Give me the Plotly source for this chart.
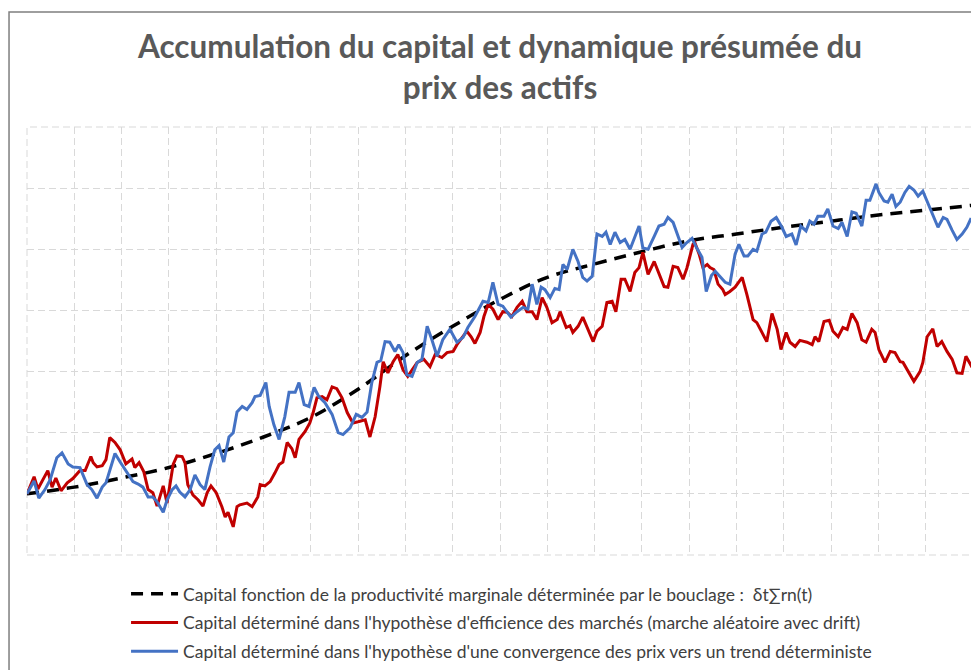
import plotly.graph_objects as go

# temps (pas de simulation) et niveau du capital
trend_t = [0, 10, 20, 30, 40, 50, 60, 70, 80, 90, 100,
           110, 120, 130, 140, 150, 160, 170, 180, 190, 200]
trend_k = [1.00, 1.11, 1.26, 1.43, 1.66, 1.93, 2.25, 2.71, 3.26, 3.74, 4.18,
           4.54, 4.76, 4.96, 5.14, 5.25, 5.36, 5.46, 5.56, 5.64, 5.72]

red_t = [0.0, 1.5, 2.3, 4.4, 5.3, 6.1, 7.2, 8.5, 9.7, 11.2, 12.3, 13.5, 14.0, 14.8, 15.9, 16.7,
         17.5, 18.6, 19.7, 20.9, 22.2, 22.8, 23.7, 24.7, 25.6, 26.6, 27.5, 28.8, 29.6, 30.9, 31.7,
         32.8, 33.4, 34.0, 35.1, 36.2, 37.2, 38.1, 38.9, 40.0, 41.2, 41.9, 42.5, 43.6, 44.4, 45.0,
         46.5, 47.6, 48.8, 49.3, 50.3, 51.4, 52.4, 53.3, 54.1, 55.0, 56.0, 56.7, 57.5, 58.8, 59.8,
         60.5, 61.3, 62.4, 63.4, 64.5, 65.5, 66.6, 67.7, 68.3, 68.9, 70.0, 71.5, 72.5, 73.6, 74.6,
         75.3, 76.3, 77.4, 78.4, 79.5, 80.5, 82.5, 83.9, 85.2, 86.3, 87.7, 88.8, 90.1, 90.9, 92.2,
         93.0, 93.9, 94.7, 95.8, 96.6, 97.5, 98.5, 99.6, 100.6, 101.5, 102.5, 103.6, 104.7, 105.7,
         106.8, 107.8, 108.9, 109.9, 111.0, 112.1, 112.7, 114.0, 114.8, 115.4, 116.5, 117.5, 118.6,
         119.7, 120.5, 121.6, 122.6, 123.7, 124.5, 125.6, 126.4, 127.5, 128.5, 129.4, 130.2, 131.3,
         132.6, 133.6, 134.7, 135.5, 136.6, 137.6, 138.7, 139.5, 140.8, 141.2, 142.1, 142.9, 143.8,
         144.4, 145.2, 146.1, 147.1, 147.6, 148.6, 149.7, 151.2, 152.2, 153.5, 154.3, 155.4, 156.4,
         157.5, 158.6, 159.4, 160.5, 161.3, 162.4, 163.4, 164.9, 166.0, 166.6, 167.4, 168.5, 169.6,
         170.4, 171.5, 172.5, 173.4, 174.4, 175.5, 176.5, 177.4, 178.6, 179.3, 180.1, 181.4, 182.5,
         183.5, 184.6, 185.2, 186.3, 187.5, 188.8, 189.4, 190.3, 191.5, 192.4, 193.4, 194.5, 195.6,
         196.6, 197.7, 198.5, 199.8]
red_k = [1.00, 1.28, 1.08, 1.38, 1.11, 1.26, 1.05, 1.18, 1.25, 1.38, 1.38, 1.61, 1.51, 1.44, 1.46, 1.56,
         1.92, 1.84, 1.72, 1.49, 1.57, 1.43, 1.51, 1.36, 1.07, 1.02, 0.80, 1.13, 0.85, 1.48, 1.62,
         1.61, 1.51, 1.15, 0.98, 0.90, 0.80, 1.02, 1.13, 1.02, 0.79, 0.62, 0.70, 0.46, 0.79, 0.82,
         0.85, 0.79, 0.95, 1.15, 1.13, 1.20, 1.34, 1.48, 1.52, 1.84, 1.74, 1.59, 1.89, 2.02, 2.16,
         2.33, 2.57, 2.59, 2.54, 2.75, 2.72, 2.57, 2.33, 2.25, 2.16, 2.18, 2.21, 1.93, 2.26, 2.75,
         3.16, 2.98, 3.16, 3.28, 3.03, 2.92, 3.15, 3.20, 3.08, 3.28, 3.23, 3.31, 3.33, 3.44, 3.57,
         3.66, 3.57, 3.46, 3.64, 3.90, 4.10, 4.02, 3.85, 3.98, 3.97, 3.90, 4.05, 4.15, 3.98,
         3.98, 3.85, 4.21, 4.05, 3.80, 3.85, 3.98, 3.72, 3.75, 3.64, 3.74, 3.89, 3.69,
         3.49, 3.66, 3.74, 4.13, 4.15, 3.98, 4.51, 4.51, 4.31, 4.62, 4.70, 4.95, 4.59,
         4.80, 4.59, 4.39, 4.38, 4.72, 4.70, 4.51, 4.69, 5.08, 5.11, 4.92, 4.70, 4.75,
         4.70, 4.67, 4.43, 4.34, 4.26, 4.31, 4.38, 4.54, 4.26, 3.85, 3.80, 3.64, 3.49,
         3.95, 3.69, 3.36, 3.64, 3.48, 3.41, 3.51, 3.48, 3.44, 3.57, 3.49, 3.82, 3.84,
         3.66, 3.57, 3.72, 3.69, 3.95, 3.80, 3.52, 3.48, 3.69, 3.64, 3.36, 3.15, 3.33,
         3.31, 3.16, 3.15, 3.00, 2.84, 3.00, 3.15, 3.57, 3.70, 3.41, 3.49, 3.33, 3.20,
         2.98, 2.97, 3.25, 3.07]

blue_t = [0.0, 1.5, 2.5, 3.8, 4.9, 6.3, 7.4, 8.7, 9.7, 11.2, 12.7, 13.7, 14.8, 15.9, 16.7, 18.6,
          19.7, 21.1, 22.4, 23.5, 24.5, 25.6, 26.6, 27.5, 28.8, 29.6, 30.7, 31.5, 32.3, 33.4, 34.5,
          35.5, 36.6, 37.6, 38.7, 39.7, 40.6, 41.6, 42.7, 43.6, 44.4, 45.5, 46.5, 47.6, 48.2, 49.3,
          50.5, 51.2, 52.2, 53.3, 54.5, 55.4, 56.7, 57.5, 58.6, 59.6, 60.7, 61.7, 63.0, 64.5, 65.8,
          66.8, 68.3, 69.6, 70.8, 71.9, 72.9, 74.0, 74.8, 75.7, 76.7, 77.8, 78.6, 79.5, 80.3, 81.4,
          82.5, 83.5, 84.6, 85.6, 86.7, 87.9, 89.4, 90.9, 92.2, 93.2, 94.7, 96.4, 97.5, 98.5, 99.6,
          100.6, 102.3, 103.6, 104.9, 105.9, 106.8, 107.8, 108.7, 109.5, 110.6, 111.6, 112.5, 113.3,
          114.2, 115.4, 116.5, 117.5, 118.4, 119.5, 120.5, 121.6, 122.4, 123.3, 124.3, 125.4, 126.4,
          127.5, 128.5, 129.4, 130.2, 131.3, 132.6, 133.6, 134.7, 135.5, 136.6, 137.6, 138.5, 139.5,
          140.6, 141.6, 142.7, 143.6, 144.7, 145.5, 146.5, 147.6, 148.6, 149.7, 150.5, 151.6, 152.4,
          153.5, 154.3, 155.4, 156.2, 157.3, 158.4, 159.6, 160.5, 161.7, 162.6, 163.6, 164.7, 165.5,
          166.4, 167.2, 168.5, 169.3, 170.4, 171.5, 172.3, 173.4, 174.4, 175.3, 176.5, 177.4, 178.2,
          179.5, 180.1, 181.2, 182.0, 182.9, 183.7, 184.6, 185.6, 186.5, 187.5, 188.4, 189.4, 190.5,
          191.5, 192.6, 193.7, 194.5, 195.6, 196.6, 197.7, 198.7, 199.6]
blue_k = [1.00, 1.21, 0.93, 1.07, 1.23, 1.59, 1.67, 1.49, 1.44, 1.43, 1.15, 1.07, 0.93, 1.11, 1.18, 1.66,
          1.52, 1.36, 1.20, 1.16, 1.11, 0.95, 0.95, 0.87, 0.70, 0.90, 1.07, 1.13, 1.03, 0.95, 1.07,
          1.31, 1.15, 1.07, 1.44, 1.72, 1.79, 1.52, 1.93, 2.00, 2.34, 2.43, 2.38, 2.49, 2.59, 2.61,
          2.82, 2.43, 2.13, 1.89, 2.26, 2.66, 2.66, 2.82, 2.46, 2.43, 2.74, 2.59, 2.49, 2.30, 2.00,
          1.97, 2.08, 2.30, 2.25, 2.34, 2.82, 3.15, 3.18, 3.49, 3.48, 3.33, 3.44, 3.31, 2.95, 2.92,
          3.15, 3.20, 3.74, 3.52, 3.25, 3.52, 3.69, 3.48, 3.56, 3.72, 3.90, 4.15, 4.13, 4.46, 4.10,
          4.07, 3.89, 3.98, 4.05, 4.02, 4.43, 4.10, 4.38, 4.34, 4.21, 4.36, 4.34, 4.75,
          4.67, 5.00, 4.80, 4.54, 4.48, 4.56, 5.25, 5.21, 5.28, 5.08, 5.28, 5.11, 5.16,
          5.00, 5.20, 5.38, 5.02, 5.00, 5.21, 5.38, 5.41, 5.52, 5.44, 5.21, 5.03, 5.11,
          5.18, 5.02, 4.87, 4.31, 4.57, 4.64, 4.56, 4.46, 4.43, 4.92, 5.08, 4.89, 4.89,
          5.00, 4.97, 5.25, 5.28, 5.46, 5.52, 5.36, 5.21, 5.25, 5.07, 5.38, 5.30, 5.46,
          5.41, 5.54, 5.54, 5.66, 5.38, 5.34, 5.44, 5.21, 5.61, 5.59, 5.38, 5.80, 5.80,
          6.07, 5.93, 5.79, 5.77, 5.90, 5.70, 5.77, 5.93, 6.03, 5.97, 5.87, 5.95, 5.74,
          5.54, 5.36, 5.52, 5.49, 5.31, 5.16, 5.25, 5.36, 5.51]

labels = [
    "Capital fonction de la productivité marginale déterminée par le bouclage :  δt∑rn(t)",
    "Capital déterminé dans l'hypothèse d'efficience des marchés (marche aléatoire avec drift)",
    "Capital déterminé dans l'hypothèse d'une convergence des prix vers un trend déterministe",
]

fig = go.Figure()

fig.add_trace(
    go.Scatter(
        x=trend_t, y=trend_k, mode="lines", name=labels[0], legendgroup="a",
        line=dict(color="black", width=3.5, dash="12px,8px", shape="spline"),
    )
)
fig.add_trace(
    go.Scatter(
        x=red_t, y=red_k, mode="lines", name=labels[1], legendgroup="b",
        line=dict(color="#C00000", width=3),
    )
)
fig.add_trace(
    go.Scatter(
        x=blue_t, y=blue_k, mode="lines", name=labels[2], legendgroup="c",
        line=dict(color="#4472C4", width=3),
    )
)

grid = dict(
    showgrid=True, gridcolor="#D9D9D9", gridwidth=1, griddash="7px,4px",
    showticklabels=False, zeroline=False, showline=False, ticks="",
)

# the page body adds an 8px offset, so the figure is drawn 8px smaller
fig.update_layout(
    width=971,
    height=662,
    margin=dict(l=19, r=6, t=119, b=115, autoexpand=False),
    paper_bgcolor="white",
    plot_bgcolor="white",
    font=dict(family="Lato", color="#404040"),
    title=dict(
        text="<b>Accumulation du capital et dynamique présumée du<br>prix des actifs</b>",
        x=0.5, xref="paper", xanchor="center",
        y=0.925, yref="container", yanchor="top",
        font=dict(family="Lato", size=31.5, color="#595959"),
    ),
    xaxis=dict(range=[0, 200], dtick=10, tick0=0, **grid),
    yaxis=dict(range=[0, 7], dtick=1, tick0=0, **grid),
    legend=dict(
        x=0.1047, xanchor="left", y=-0.049, yanchor="top",
        font=dict(family="Lato", size=17.5, color="#404040"),
        itemwidth=47, tracegroupgap=3, bgcolor="rgba(0,0,0,0)",
    ),
    shapes=[
        dict(
            type="rect", xref="paper", yref="paper",
            x0=0, x1=1, y0=0, y1=1,
            line=dict(color="#D9D9D9", width=1, dash="7px,4px"),
            fillcolor="rgba(0,0,0,0)", layer="below",
        ),
        dict(
            type="rect", xref="paper", yref="paper",
            x0=-0.0190, x1=1.02, y0=-0.3, y1=1.2687,
            line=dict(color="#7F7F7F", width=1.5), fillcolor="rgba(0,0,0,0)",
            layer="above",
        ),
    ],
)

fig.write_html("out.html")
